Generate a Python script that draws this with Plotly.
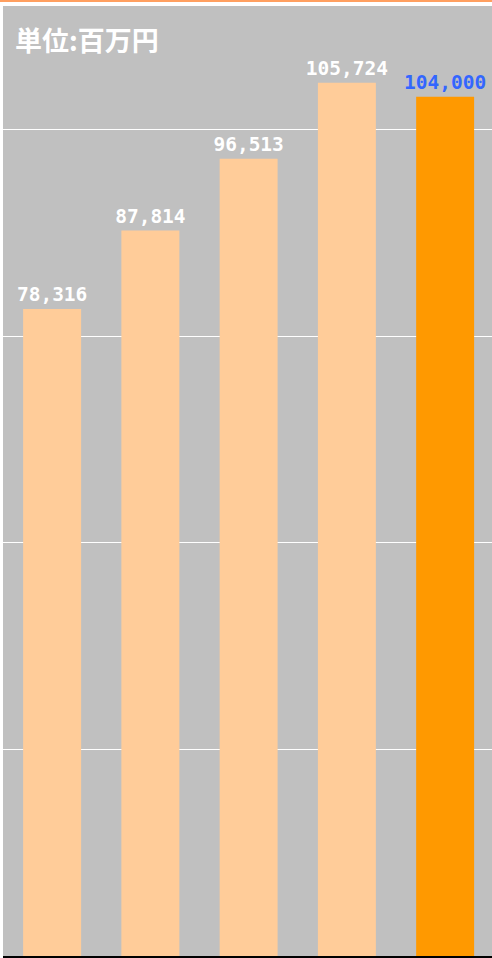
import plotly.graph_objects as go

categories = ["1", "2", "3", "4", "5"]
values = [78316, 87814, 96513, 105724, 104000]
labels = ["78,316", "87,814", "96,513", "105,724", "104,000"]
bar_colors = ["#FFCC99", "#FFCC99", "#FFCC99", "#FFCC99", "#FF9900"]
label_colors = ["#FFFFFF", "#FFFFFF", "#FFFFFF", "#FFFFFF", "#3366FF"]
title_text = "単位:百万円"

FONT = "Noto Sans CJK JP"

fig = go.Figure()
fig.add_trace(go.Bar(
    x=categories, y=values,
    marker=dict(color=bar_colors, line=dict(width=0)),
    text=labels, textposition="outside", constraintext="none",
    textfont=dict(family="DejaVu Sans Mono", size=19.5, color=label_colors, weight="bold"),
    cliponaxis=False,
    hoverinfo="skip",
))

fig.update_layout(
    width=492, height=958,
    margin=dict(l=3, r=0, t=6, b=2),
    paper_bgcolor="#FFFFFF",
    plot_bgcolor="#C0C0C0",
    bargap=0.41,
    showlegend=False,
    xaxis=dict(range=[-0.5, 4.477], showticklabels=False, ticks="", showgrid=False,
               zeroline=False, showline=True, linecolor="#000000", linewidth=2),
    yaxis=dict(range=[0, 115000], dtick=25000, showticklabels=False, ticks="",
               showgrid=True, gridcolor="#FFFFFF", gridwidth=1, zeroline=False),
    shapes=[dict(type="line", xref="paper", yref="paper", x0=-0.01, x1=1.01,
                 y0=1.0053, y1=1.0053, line=dict(color="#FF9F60", width=2))],
    annotations=[dict(text=title_text, xref="paper", yref="paper", x=0.02, y=0.965,
                      xanchor="left", yanchor="middle", showarrow=False,
                      font=dict(family=FONT, size=27, color="#FFFFFF", weight="bold"))],
)

fig.write_html("out.html", config={"displayModeBar": False},
               post_script="document.body.style.margin='0';document.body.style.overflow='hidden';")
